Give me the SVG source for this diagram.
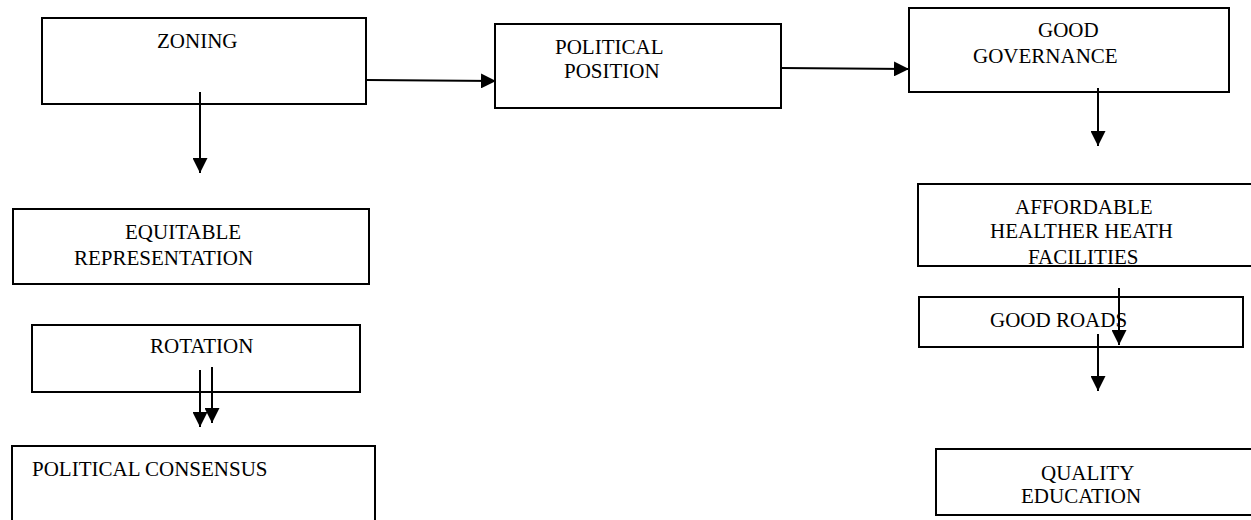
<svg xmlns="http://www.w3.org/2000/svg" width="1251" height="520" viewBox="0 0 1251 520">
<style>
.box{fill:#fff;stroke:#000;stroke-width:2}
.t{font-family:"Liberation Serif","Times New Roman",serif;font-size:21px;fill:#000}
.c{stroke:#000;stroke-width:2;fill:none;marker-end:url(#arr)}
</style>
<defs>
<marker id="arr" viewBox="0 0 15 15" refX="15" refY="7.5" markerWidth="15" markerHeight="15" markerUnits="userSpaceOnUse" orient="auto">
<path d="M0,0 L15,7.5 L0,15 Z" fill="#000"/>
</marker>
</defs>
<rect width="1251" height="520" fill="#fff"/>
<g id="zoning"><rect class="box" x="42" y="18" width="324" height="86"/><text class="t" x="157" y="48">ZONING</text></g>
<g id="political-position"><rect class="box" x="495" y="24" width="286" height="84"/><text class="t" x="555" y="54">POLITICAL</text><text class="t" x="564" y="78">POSITION</text></g>
<g id="good-governance"><rect class="box" x="909" y="8" width="320" height="84"/><text class="t" x="1038" y="37">GOOD</text><text class="t" x="973" y="63">GOVERNANCE</text></g>
<g id="affordable"><rect class="box" x="918" y="184" width="340" height="82"/><text class="t" x="1015" y="214">AFFORDABLE</text><text class="t" x="990" y="238">HEALTHER HEATH</text><text class="t" x="1028" y="264">FACILITIES</text></g>
<g id="good-roads"><rect class="box" x="919" y="297" width="324" height="50"/><text class="t" x="990" y="327">GOOD ROADS</text></g>
<g id="quality-education"><rect class="box" x="936" y="449" width="330" height="66"/><text class="t" x="1041" y="480">QUALITY</text><text class="t" x="1021" y="503">EDUCATION</text></g>
<g id="equitable"><rect class="box" x="13" y="209" width="356" height="75"/><text class="t" x="125" y="239">EQUITABLE</text><text class="t" x="74" y="265">REPRESENTATION</text></g>
<g id="rotation"><rect class="box" x="32" y="325" width="328" height="67"/><text class="t" x="150" y="353">ROTATION</text></g>
<g id="political-consensus"><rect class="box" x="12" y="446" width="363" height="90"/><text class="t" x="32" y="476">POLITICAL CONSENSUS</text></g>
<g id="connectors">
<line class="c" x1="367" y1="80" x2="496" y2="81"/>
<line class="c" x1="781" y1="68" x2="909" y2="69"/>
<line class="c" x1="200" y1="92" x2="200" y2="173"/>
<line class="c" x1="1098" y1="88" x2="1098" y2="146"/>
<line class="c" x1="1119" y1="288" x2="1119" y2="345"/>
<line class="c" x1="1098" y1="334" x2="1098" y2="391"/>
<line class="c" x1="200" y1="370" x2="200" y2="427"/>
<line class="c" x1="212" y1="367" x2="212" y2="423"/>
</g>
</svg>
